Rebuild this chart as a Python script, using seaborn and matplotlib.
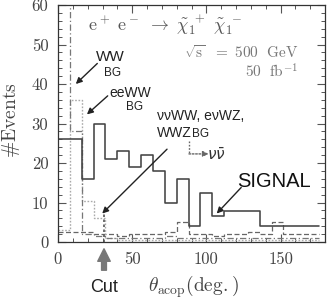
import numpy as np
import matplotlib
matplotlib.use("Agg")
import matplotlib.pyplot as plt
import seaborn as sns

# ---- data ----
bin_edges = list(range(0, 177, 8))            # acoplanarity angle bins (deg.)
signal  = [26, 26, 16, 30, 21, 23, 19, 22, 18, 10, 16, 4, 12.4, 6.5, 7.8, 7.8, 7.8, 4, 4, 4, 4, 4]
ww_bg   = [75, 28, 2, 1.5, 1, 1, 1, 1, 1, 1.5, 1, 1, 1, 1, 1, 1, 1, 1, 1, 1, 1, 1]
eeww_bg = [3, 36, 10.5, 6, 1, 0.5, 0.5, 0.5, 0.5, 0.5, 0.5, 0.5, 0.5, 0.5, 0.5, 0.5, 0.5, 0.5, 0.5, 0.5, 0.5, 0.5]
nnww_bg = [2.5, 2.5, 2.5, 2, 2, 1.5, 2, 2, 2, 2.5, 5, 2, 2, 1.5, 2, 2, 2.5, 2, 5, 2, 2, 2]
cut_value = 31
x_ticks = [0, 50, 100, 150]
y_ticks = [0, 10, 20, 30, 40, 50, 60]

sns.set_style("ticks")
plt.rcParams["mathtext.fontset"] = "cm"
plt.rcParams["axes.unicode_minus"] = False

fig = plt.figure(figsize=(3.27, 3.0), dpi=100)
ax = fig.add_axes([58/327, 1-242/300, (325-58)/327, (242-5)/300])

centers = [(bin_edges[i] + bin_edges[i+1]) / 2 for i in range(len(bin_edges) - 1)]

series = [
    (nnww_bg, "#666666", (0, (4, 2)), 0.9),
    (eeww_bg, "#aaaaaa", (0, (1.2, 1.2)), 1.0),
    (ww_bg,   "#777777", (0, (5, 2, 1, 2)), 0.9),
    (signal,  "#444444", "-", 1.15),
]
for vals, col, ls, lw in series:
    sns.histplot(x=centers, weights=vals, bins=bin_edges, element="step",
                 fill=False, color=col, linestyle=ls, linewidth=lw, ax=ax)

# cut line
ax.plot([cut_value, cut_value], [0, 7.5], color="#555555", ls=(0, (1.5, 1.5)), lw=1.2)

ax.set_xlim(0, 180)
ax.set_ylim(0, 60)
ax.set_xlabel("")
ax.set_ylabel("")
ax.set_xticks(x_ticks)
ax.set_yticks(y_ticks)
ax.set_xticks(np.arange(0, 181, 10), minor=True)
ax.set_yticks(np.arange(0, 61, 2), minor=True)
ax.tick_params(which="both", direction="in", top=True, right=True, color="#555555")
ax.tick_params(which="major", length=6, width=0.8, labelsize=12, pad=7,
               labelcolor="#444444", labelfontfamily="cmr10")
ax.tick_params(which="minor", length=3, width=0.7)
for s in ax.spines.values():
    s.set_color("#333333")
    s.set_linewidth(0.9)

# ---- annotations ----
serif_col = "#555555"
ax.text(0.113, 0.915, r"$\mathrm{e}^+\ \mathrm{e}^-\ \rightarrow\ \tilde{\chi}_1^{\ +}\ \tilde{\chi}_1^{\ -}$",
        transform=ax.transAxes, fontsize=13, color=serif_col, ha="left", va="center")
ax.text(0.90, 0.80, r"$\sqrt{\mathrm{s}}\ \ =\ 500\ \ \mathrm{GeV}$", transform=ax.transAxes,
        fontsize=11, color="#777777", ha="right", va="center")
ax.text(0.90, 0.72, r"$50\ \ \mathrm{fb}^{-1}$", transform=ax.transAxes,
        fontsize=11, color="#777777", ha="right", va="center")

sans = "Liberation Sans"
arrow_kw = dict(arrowstyle="-|>", color="#222222", lw=1.0, mutation_scale=9,
                shrinkA=0, shrinkB=0)

# WW BG
ax.text(35.5, 46.9, "WW", fontsize=11, family=sans, ha="center", va="center", color="#222222")
ax.text(37.0, 42.9, "BG", fontsize=8.5, family=sans, ha="center", va="center", color="#222222")
ax.annotate("", xy=(12.0, 40.0), xytext=(26.5, 45.2), arrowprops=arrow_kw)

# eeWW BG
ax.text(48.5, 37.6, "eeWW", fontsize=10, family=sans, ha="center", va="center", color="#222222")
ax.text(51.5, 34.1, "BG", fontsize=8.5, family=sans, ha="center", va="center", color="#222222")
ax.annotate("", xy=(19.5, 32.3), xytext=(33.5, 37.0), arrowprops=arrow_kw)

# nuWW etc.
ax.text(66.5, 31.9, "ννWW, eνWZ,", fontsize=10, family=sans, ha="left", va="center", color="#222222")
ax.text(66.5, 27.7, "WWZ", fontsize=10, family=sans, ha="left", va="center", color="#222222")
ax.text(90.5, 27.4, "BG", fontsize=8.5, family=sans, ha="left", va="center", color="#222222")
ax.annotate("", xy=(29.8, 7.2), xytext=(73.5, 23.5), arrowprops=arrow_kw)

# nu nubar leader
ax.plot([88.3, 88.3], [25.5, 22.3], color="#666666", ls=(0, (1.2, 1.2)), lw=1.0)
ax.annotate("", xy=(101.5, 22.3), xytext=(88.3, 22.3),
            arrowprops=dict(arrowstyle="-|>", color="#666666", lw=1.0, ls=(0, (1.2, 1.2)),
                            mutation_scale=8, shrinkA=0, shrinkB=0))
ax.text(107.0, 22.0, r"$\nu\bar{\nu}$", fontsize=11, math_fontfamily="dejavusans",
        ha="center", va="center", color="#333333")

# SIGNAL
ax.text(145.5, 15.4, "SIGNAL", fontsize=14.5, family=sans, ha="center", va="center", color="#111111")
ax.annotate("", xy=(107.0, 7.2), xytext=(123.5, 13.8), arrowprops=arrow_kw)

# ---- axis labels (outside the axes) ----
fig.text(11/327, 1-120/300, r"$\#\mathrm{Events}$", rotation=90, fontsize=14,
         ha="center", va="center", color="#444444")
fig.text(104/327, 1-288/300, "Cut", fontsize=13, family=sans, ha="center", va="center", color="#222222")
fig.text(148/327, 1-287/300, r"$\theta_{\mathrm{acop}}(\mathrm{deg.})$", fontsize=14,
         ha="left", va="center", color="#444444")
fig.add_artist(matplotlib.patches.FancyArrowPatch(
    (104/327, 1-273/300), (104/327, 1-246/300), transform=fig.transFigure,
    arrowstyle="simple,head_width=0.9,head_length=0.9,tail_width=0.35",
    mutation_scale=10, color="#777777"))

fig.savefig("out.png", dpi=100)
